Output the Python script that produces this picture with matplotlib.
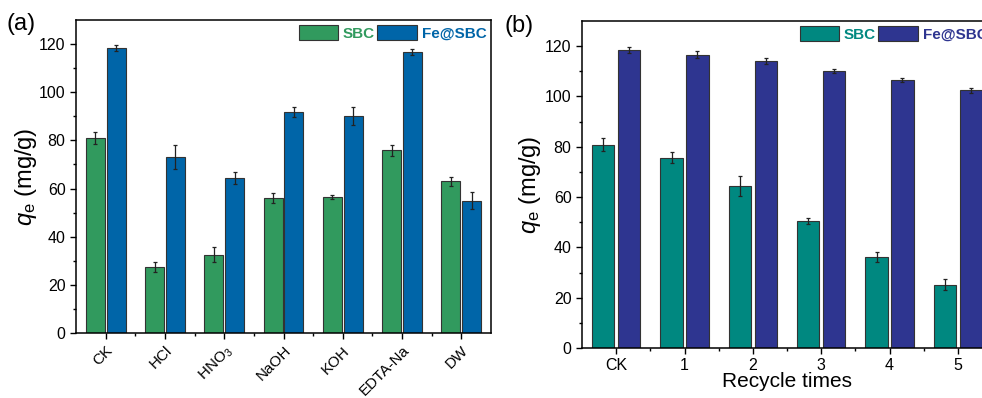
import numpy as np
import matplotlib.pyplot as plt
from matplotlib.ticker import FixedLocator

plt.rcParams['font.family'] = ['Liberation Sans', 'DejaVu Sans']
plt.rcParams['mathtext.fontset'] = 'custom'
plt.rcParams['mathtext.rm'] = 'Liberation Sans'
plt.rcParams['mathtext.it'] = 'Liberation Sans:italic'

# (a) eluent comparison
labels_a = ['CK', 'HCl', 'HNO$_3$', 'NaOH', 'KOH', 'EDTA-Na', 'DW']
sbc_a = [81.0, 27.3, 32.5, 56.2, 56.5, 75.8, 63.0]
sbc_a_err = [2.5, 2.0, 3.2, 2.0, 1.0, 2.1, 1.8]
fe_a = [118.5, 73.0, 64.5, 91.8, 90.0, 116.7, 55.0]
fe_a_err = [1.3, 5.0, 2.5, 2.2, 3.8, 1.3, 3.5]

# (b) recycle
labels_b = ['CK', '1', '2', '3', '4', '5']
sbc_b = [80.9, 75.7, 64.4, 50.5, 36.2, 25.2]
sbc_b_err = [2.6, 2.3, 4.0, 1.3, 2.0, 2.2]
fe_b = [118.5, 116.6, 114.2, 110.1, 106.5, 102.4]
fe_b_err = [1.3, 1.4, 1.2, 0.7, 0.9, 0.9]

fig = plt.figure(figsize=(9.82, 3.98), dpi=100)
ax1 = fig.add_axes([76/982, 65/398, 415/982, 313/398])
ax2 = fig.add_axes([582/982, 50/398, 410/982, 327/398])


def panel(ax, labels, s, se, f, fe, c1, c2, w, off, tick_fs):
    x = np.arange(len(labels))
    ekw = dict(ecolor='#222222', elinewidth=0.9, capsize=1.5, capthick=0.9)
    ax.bar(x - off, s, w, color=c1, edgecolor='#333333', linewidth=0.8,
           yerr=se, error_kw=ekw, label='SBC')
    ax.bar(x + off, f, w, color=c2, edgecolor='#333333', linewidth=0.8,
           yerr=fe, error_kw=ekw, label='Fe@SBC')
    ax.set_xlim(-0.5, len(labels) - 0.5)
    ax.set_ylim(0, 130)
    ax.set_xticks(x)
    ax.xaxis.set_minor_locator(FixedLocator(x[:-1] + 0.5))
    ax.yaxis.set_major_locator(FixedLocator([0, 20, 40, 60, 80, 100, 120]))
    ax.yaxis.set_minor_locator(FixedLocator([10, 30, 50, 70, 90, 110]))
    ax.tick_params(which='major', direction='out', length=4, width=1, labelsize=tick_fs)
    ax.tick_params(which='minor', direction='out', length=2.5, width=1)
    for sp in ax.spines.values():
        sp.set_linewidth(1.1)
    ax.set_ylabel(r'$q_\mathrm{e}$ (mg/g)', fontsize=17)
    leg = ax.legend(loc='upper right', ncol=2, frameon=False, handlelength=2.6,
                    handleheight=1.2, columnspacing=0.15, handletextpad=0.3,
                    borderaxespad=0.1, borderpad=0.2,
                    prop=dict(weight='bold', size=11))
    for t, c in zip(leg.get_texts(), [c1, c2]):
        t.set_color(c)
    return x


panel(ax1, labels_a, sbc_a, sbc_a_err, fe_a, fe_a_err, '#319A5E', '#0065A8',
      0.32, 0.175, 11.5)
ax1.set_xticklabels(labels_a, rotation=45, ha='right', rotation_mode='anchor')
ax1.tick_params(axis='x', labelsize=11)
ax1.yaxis.set_label_coords(-0.09, 0.5)

panel(ax2, labels_b, sbc_b, sbc_b_err, fe_b, fe_b_err, '#008880', '#2E3590',
      0.33, 0.19, 11.5)
ax2.set_xticklabels(labels_b)
ax2.set_xlabel('Recycle times', fontsize=15, labelpad=-1)
ax2.yaxis.set_label_coords(-0.095, 0.5)

fig.text(7/982, 1 - 24/398, '(a)', fontsize=17, va='center', ha='left')
fig.text(505/982, 1 - 26/398, '(b)', fontsize=17, va='center', ha='left')

fig.savefig('out.png', dpi=100)
